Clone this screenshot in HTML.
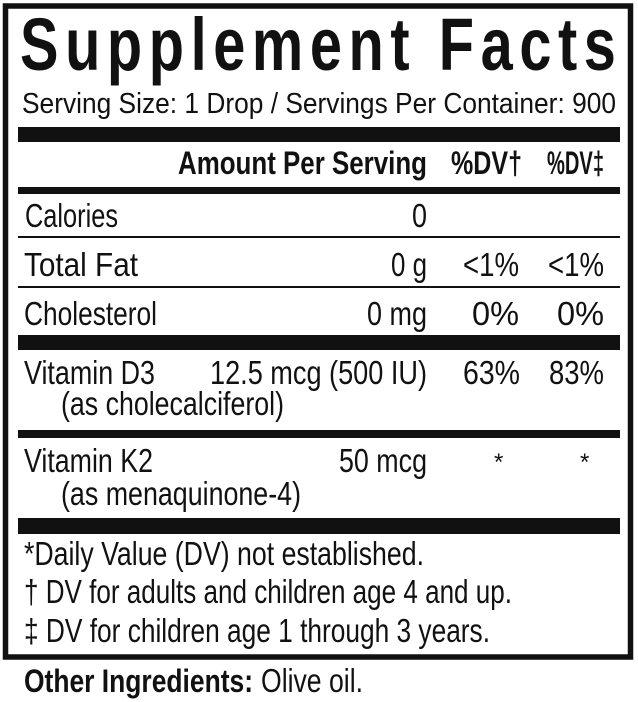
<!DOCTYPE html>
<html><head><meta charset="utf-8"><style>
html,body{margin:0;padding:0;background:#fff;width:638px;height:702px;overflow:hidden}
svg{display:block}
text{font-family:"Liberation Sans",sans-serif;fill:#111}
.b{font-weight:bold}
</style></head><body>
<svg width="638" height="702" viewBox="0 0 638 702" xmlns="http://www.w3.org/2000/svg">
<rect x="0" y="0" width="638" height="702" fill="#fff"/>
<rect x="5.5" y="6" width="625" height="651" fill="none" stroke="#111" stroke-width="5.5"/>
<g transform="translate(20,70) scale(0.78,1)">
<text class="b" x="0" y="0" font-size="74" textLength="764" lengthAdjust="spacing">Supplement Facts</text>
</g>
<text x="22" y="113" font-size="29" textLength="594" lengthAdjust="spacingAndGlyphs">Serving Size: 1 Drop / Servings Per Container: 900</text>
<rect x="18" y="127" width="602" height="15" fill="#111"/>
<text class="b" x="178" y="174" font-size="32" textLength="249" lengthAdjust="spacingAndGlyphs">Amount Per Serving</text>
<text class="b" x="451" y="174" font-size="32" textLength="71" lengthAdjust="spacingAndGlyphs">%DV†</text>
<text class="b" x="547" y="174" font-size="32" textLength="57" lengthAdjust="spacingAndGlyphs">%DV‡</text>
<rect x="18" y="187" width="602" height="7" fill="#111"/>
<text x="25" y="227" font-size="33" textLength="93" lengthAdjust="spacingAndGlyphs">Calories</text>
<text x="412" y="227" font-size="33" textLength="15" lengthAdjust="spacingAndGlyphs">0</text>
<rect x="18" y="236" width="602" height="2" fill="#111"/>
<text x="24" y="276" font-size="33" textLength="114" lengthAdjust="spacingAndGlyphs">Total Fat</text>
<text x="391" y="276" font-size="33" textLength="36" lengthAdjust="spacingAndGlyphs">0 g</text>
<text x="463" y="276" font-size="33" textLength="56" lengthAdjust="spacingAndGlyphs">&lt;1%</text>
<text x="548" y="276" font-size="33" textLength="56" lengthAdjust="spacingAndGlyphs">&lt;1%</text>
<rect x="18" y="286" width="602" height="2" fill="#111"/>
<text x="24" y="325" font-size="33" textLength="133" lengthAdjust="spacingAndGlyphs">Cholesterol</text>
<text x="367" y="325" font-size="33" textLength="60" lengthAdjust="spacingAndGlyphs">0 mg</text>
<text x="472" y="325" font-size="33" textLength="47" lengthAdjust="spacingAndGlyphs">0%</text>
<text x="557" y="325" font-size="33" textLength="47" lengthAdjust="spacingAndGlyphs">0%</text>
<rect x="18" y="335" width="602" height="15" fill="#111"/>
<text x="24" y="384" font-size="33" textLength="131" lengthAdjust="spacingAndGlyphs">Vitamin D3</text>
<text x="210" y="384" font-size="33" textLength="217" lengthAdjust="spacingAndGlyphs">12.5 mcg (500 IU)</text>
<text x="463" y="384" font-size="33" textLength="57" lengthAdjust="spacingAndGlyphs">63%</text>
<text x="549" y="384" font-size="33" textLength="55" lengthAdjust="spacingAndGlyphs">83%</text>
<text x="61" y="415" font-size="33" textLength="223" lengthAdjust="spacingAndGlyphs">(as cholecalciferol)</text>
<rect x="18" y="430" width="602" height="8" fill="#111"/>
<text x="24" y="472" font-size="33" textLength="129" lengthAdjust="spacingAndGlyphs">Vitamin K2</text>
<text x="339" y="472" font-size="33" textLength="88" lengthAdjust="spacingAndGlyphs">50 mcg</text>
<text x="494" y="470" font-size="24">*</text>
<text x="580" y="470" font-size="24">*</text>
<text x="61" y="505" font-size="33" textLength="240" lengthAdjust="spacingAndGlyphs">(as menaquinone-4)</text>
<rect x="18" y="518" width="602" height="16" fill="#111"/>
<text x="24" y="565" font-size="33" textLength="400" lengthAdjust="spacingAndGlyphs">*Daily Value (DV) not established.</text>
<text x="24" y="603" font-size="33" textLength="488" lengthAdjust="spacingAndGlyphs">† DV for adults and children age 4 and up.</text>
<text x="24" y="642" font-size="33" textLength="466" lengthAdjust="spacingAndGlyphs">‡ DV for children age 1 through 3 years.</text>
<text class="b" x="24" y="692" font-size="32" textLength="229" lengthAdjust="spacingAndGlyphs">Other Ingredients:</text>
<text x="261" y="692" font-size="33" textLength="102" lengthAdjust="spacingAndGlyphs">Olive oil.</text>
</svg>
</body></html>
